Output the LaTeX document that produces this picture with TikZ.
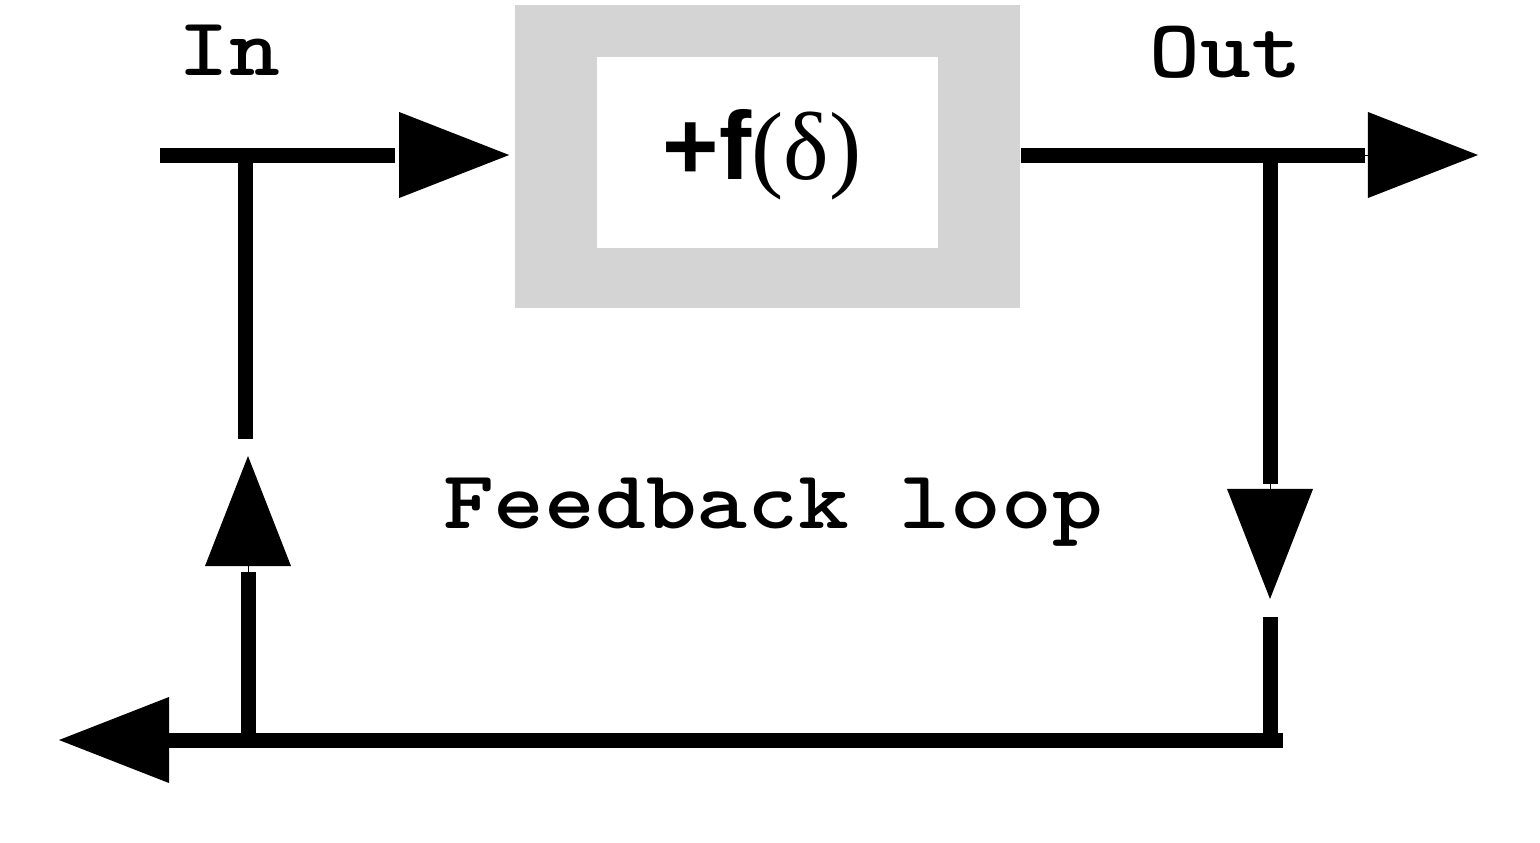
\documentclass[tikz,border=0pt]{standalone}
\usepackage{fontspec}
\newfontfamily\typefont{Latin Modern Mono Light}[FakeStretch=1.17]
\newfontfamily\arialfont{Liberation Sans}
\newfontfamily\timesfont{Liberation Serif}
\usetikzlibrary{arrows.meta}

\begin{document}
\begin{tikzpicture}[x=0.01cm,y=-0.01cm,
        wire/.style={line width=0.15cm},
        head/.style={line width=0.1pt,shorten <=0.3cm,-{Triangle[length=1.1cm,width=0.86cm,line width=0pt]}},
        tag/.style={anchor=base,inner sep=0pt,
            font=\typefont\bfseries\fontsize{23.5pt}{28pt}\selectfont}]
            \useasboundingbox (0,0) rectangle (1540,842);

            \node[fill=gray!34,inner sep=0pt,minimum width=5.05cm,minimum height=3.03cm] (box) at (767.5,156.5) {};
            \node[fill=white,inner sep=0pt,minimum width=3.41cm,minimum height=1.91cm] (core) at (767.5,152.5) {};
            \node[inner sep=0pt,font=\fontsize{27.5pt}{32pt}\selectfont] (func) at (762,155)
                {{\arialfont\bfseries +f}{\timesfont(δ)}};

            \coordinate (inL) at (160,155);
            \coordinate (jIn) at (245,155);
            \coordinate (inEnd) at (395,155);
            \coordinate (inBase) at (399,155);
            \coordinate (outEnd) at (1365,155);
            \coordinate (outBase) at (1368,155);
            \coordinate (outR) at (1478,155);
            \coordinate (jOut) at (1270,155);
            \coordinate (rEnd) at (1270,484);
            \coordinate (rBase) at (1270,489);
            \coordinate (rTip) at (1270,599);
            \coordinate (rLow) at (1270,617);
            \coordinate (rBot) at (1270,733);
            \coordinate (bR) at (1283,740);
            \coordinate (bTip) at (59,740);
            \coordinate (lBot) at (248,740);
            \coordinate (lEnd) at (248,572);
            \coordinate (lBase) at (248,566);
            \coordinate (lTip) at (248,456);
            \coordinate (lTop) at (245,439);

            \draw[wire] (inL) -- (inEnd);
            \draw[head,shorten >=0.05cm] (inBase) -- (inBase -| box.west);
            \draw[wire] (box.east |- outR) -- (outEnd);
            \draw[head] (outBase) -- (outR);
            \draw[wire] (lTop) -- (jIn);
            \draw[wire] (jOut) -- (rEnd);
            \draw[head] (rBase) -- (rTip);
            \draw[wire] (rLow) -- (rBot);
            \draw[wire,-{Triangle[length=1.1cm,width=0.86cm,line width=0pt]}] (bR) -- (bTip);
            \draw[wire] (lBot) -- (lEnd);
            \draw[head] (lBase) -- (lTip);

            \node[tag] (in) at (229,75) {In};
            \node[tag] (out) at (1226,77) {Out};
            \node[tag] (loop) at (773,528) {Feedback loop};
        \end{tikzpicture}
\end{document}
